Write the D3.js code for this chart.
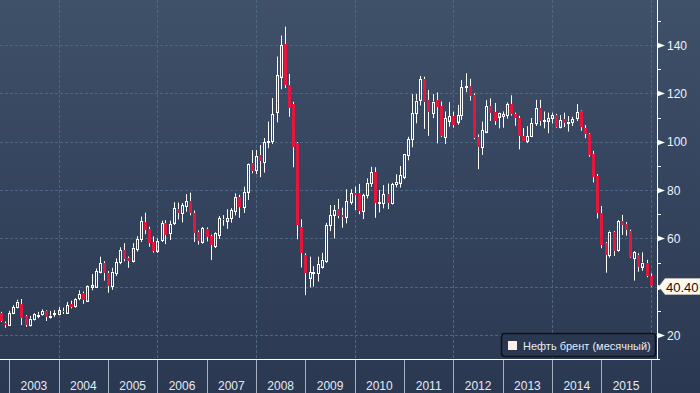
<!DOCTYPE html>
<meta charset="utf-8">
<style>
  body { margin: 0; background: #2c3a55; }
  svg { display: block; font-family: "Liberation Sans", Arial, sans-serif; }
  .grid line { stroke: #4c6783; stroke-width: 1px; stroke-dasharray: 3,2; }
  .wick { stroke: #ffffff; stroke-width: 1px; }
</style>
<body>
<div id="chart"></div>
<script src="https://d3js.org/d3.v7.js"></script>
<script>
  // monthly candles, Oct 2002 .. Dec 2015
  var firstMonth = new Date(2002, 9, 1);
  var lastMonth = new Date(2015, 11, 1);

  var opens = [
    29.2, 25.1, 24.2,
    29.2, 31.5, 32.8, 27.8, 24.0, 26.6, 28.3, 28.6, 29.9, 27.6, 28.6, 28.6,
    29.9, 29.2, 32.7, 32.0, 35.2, 37.2, 34.2, 40.0, 40.0, 46.2, 49.7, 45.5,
    40.3, 45.6, 50.1, 55.0, 52.0, 50.8, 55.6, 59.7, 66.9, 63.7, 58.6, 54.9,
    59.3, 66.2, 62.1, 66.5, 72.0, 70.4, 73.4, 75.4, 70.6, 62.7, 58.6, 63.7,
    61.0, 56.8, 61.4, 68.0, 67.3, 68.3, 71.3, 77.0, 72.8, 79.3, 91.0, 88.3,
    94.5, 91.4, 99.8, 100.2, 112.4, 126.9, 140.4, 123.4, 115.6, 99.3, 64.6, 53.1,
    43.7, 45.8, 45.5, 48.3, 50.7, 65.5, 69.8, 72.1, 69.6, 68.9, 75.1, 78.9,
    78.9, 71.3, 77.9, 82.7, 87.3, 74.7, 74.5, 78.3, 74.5, 82.3, 83.0, 85.5,
    94.5, 101.0, 111.7, 117.3, 125.8, 117.3, 111.7, 117.3, 114.8, 101.8, 108.7, 110.6,
    108.3, 111.0, 122.5, 123.0, 119.3, 101.8, 97.7, 104.2, 114.8, 112.4, 110.4, 110.6,
    111.0, 115.6, 111.4, 110.0, 102.4, 100.4, 102.2, 107.7, 114.0, 108.4, 108.7, 109.7,
    111.1, 106.2, 109.3, 107.8, 108.0, 109.7, 112.7, 105.8, 103.2, 94.9, 85.8, 70.4,
    58.0, 52.9, 62.8, 55.2, 67.2, 66.0, 63.1, 51.8, 53.1, 48.3, 50.0, 44.6
  ];
  var highs = [
    29.6, 25.6, 30.0,
    32.3, 34.6, 34.9, 28.3, 27.9, 29.0, 29.6, 30.6, 30.2, 30.0, 30.3, 31.5,
    31.3, 33.7, 34.2, 35.2, 38.5, 38.0, 40.5, 45.2, 47.5, 52.4, 50.5, 46.5,
    47.8, 51.7, 56.3, 58.0, 52.5, 58.0, 60.9, 69.0, 70.6, 64.8, 60.8, 60.0,
    67.3, 67.5, 67.3, 74.9, 74.8, 74.6, 78.3, 78.9, 71.5, 63.3, 64.7, 64.5,
    61.5, 62.5, 69.2, 69.6, 72.0, 72.5, 78.6, 78.0, 81.4, 91.0, 96.5, 96.5,
    98.6, 101.5, 108.3, 118.0, 135.2, 143.9, 147.6, 128.0, 116.5, 99.8, 67.9, 53.8,
    52.4, 48.5, 52.4, 54.0, 66.4, 73.8, 73.8, 76.3, 72.7, 80.3, 80.3, 81.4,
    82.5, 78.5, 84.8, 89.6, 89.4, 80.0, 82.0, 82.7, 83.0, 86.5, 89.9, 94.9,
    102.0, 119.7, 119.7, 127.2, 126.9, 121.4, 119.7, 120.4, 116.6, 112.5, 116.4, 112.4,
    115.2, 125.5, 128.3, 126.0, 120.0, 103.0, 108.3, 117.2, 117.9, 116.0, 112.0, 112.5,
    116.2, 119.2, 112.0, 110.7, 105.6, 106.4, 109.8, 117.3, 117.3, 112.5, 112.0, 112.0,
    111.5, 111.0, 112.0, 110.6, 110.3, 115.6, 112.9, 106.9, 103.5, 96.2, 86.6, 73.4,
    58.5, 63.2, 63.0, 67.6, 69.7, 66.8, 63.6, 54.7, 53.8, 54.2, 51.1, 45.5
  ];
  var lows = [
    25.4, 23.0, 23.8,
    28.6, 31.0, 24.1, 23.4, 23.5, 26.0, 26.9, 28.0, 25.8, 26.8, 27.5, 28.3,
    28.7, 28.9, 31.0, 31.3, 34.4, 32.9, 33.8, 38.5, 39.6, 45.5, 42.5, 37.5,
    38.7, 44.4, 49.3, 50.5, 47.8, 50.0, 54.5, 58.5, 61.7, 56.5, 54.1, 54.0,
    58.5, 57.6, 59.3, 65.5, 67.8, 66.6, 71.0, 69.5, 58.5, 57.4, 57.8, 58.7,
    51.0, 56.0, 59.8, 65.2, 63.9, 66.5, 69.5, 68.5, 70.5, 75.9, 86.9, 86.6,
    85.3, 87.2, 97.3, 99.0, 108.0, 121.7, 122.2, 110.3, 89.4, 59.6, 47.9, 36.5,
    39.7, 40.0, 42.1, 47.5, 49.8, 63.0, 60.0, 68.3, 64.4, 66.2, 74.0, 71.7,
    70.0, 68.0, 76.5, 81.3, 68.5, 70.7, 72.4, 72.1, 74.0, 81.1, 81.0, 84.5,
    92.3, 97.7, 107.6, 115.0, 105.3, 102.4, 109.7, 99.3, 102.0, 99.0, 106.2, 105.8,
    107.0, 109.0, 120.5, 117.0, 101.0, 88.6, 94.5, 103.5, 108.6, 106.9, 105.5, 105.8,
    109.5, 110.8, 106.6, 96.8, 100.3, 99.4, 101.9, 106.5, 106.6, 105.5, 103.5, 107.5,
    105.8, 105.5, 106.0, 104.2, 106.5, 108.5, 104.5, 101.4, 93.8, 83.1, 68.2, 55.9,
    45.8, 52.0, 52.7, 54.5, 61.4, 61.1, 52.0, 42.5, 46.2, 46.6, 43.9, 40.0
  ];
  var closes = [
    25.8, 24.2, 29.1,
    31.5, 33.8, 26.9, 24.1, 26.7, 28.6, 28.4, 29.9, 27.6, 28.0, 29.0, 30.3,
    29.4, 32.4, 31.5, 34.9, 37.0, 34.5, 40.1, 40.6, 46.5, 49.7, 45.5, 40.3,
    46.2, 50.2, 55.0, 51.3, 50.8, 56.1, 59.7, 67.2, 63.4, 57.9, 54.9, 59.0,
    66.2, 61.4, 65.9, 72.4, 70.4, 73.7, 75.4, 70.4, 62.3, 59.0, 64.1, 60.7,
    57.2, 62.1, 68.3, 67.6, 68.3, 71.7, 77.2, 72.8, 79.0, 90.8, 88.0, 94.1,
    92.1, 99.7, 100.2, 111.3, 127.6, 140.0, 123.4, 113.8, 97.9, 65.5, 53.8, 45.5,
    45.9, 46.2, 49.3, 51.0, 65.5, 69.6, 71.7, 69.2, 68.7, 75.4, 78.6, 77.8,
    71.3, 77.9, 83.0, 87.3, 74.5, 75.1, 78.3, 74.5, 82.3, 83.4, 86.2, 94.9,
    101.0, 111.7, 117.0, 125.8, 116.6, 112.4, 116.6, 114.5, 102.4, 109.7, 110.6, 106.9,
    111.0, 122.5, 123.0, 118.9, 101.7, 97.7, 104.8, 114.8, 112.0, 108.6, 111.7, 111.4,
    115.6, 111.4, 110.0, 102.4, 100.4, 102.2, 107.7, 114.0, 108.4, 108.8, 109.7, 111.1,
    106.2, 109.0, 107.6, 108.3, 109.4, 112.2, 106.0, 103.1, 94.5, 85.5, 70.4, 57.3,
    52.9, 62.8, 54.9, 67.2, 65.5, 63.5, 52.2, 54.2, 48.3, 50.0, 44.6, 40.4
  ];

  var years = [2002, 2003, 2004, 2005, 2006, 2007, 2008, 2009, 2010, 2011, 2012, 2013, 2014, 2015];
  var yTicks = [20, 40, 60, 80, 100, 120, 140];
  var yMinorTicks = [30, 50, 70, 90, 110, 130, 150];
  var seriesName = "Нефть брент (месячный)";
  var lastLabel = "40.40";

  var width = 700, height = 393;
  var axisX = 657, axisY = 359;

  var months = d3.timeMonth.range(firstMonth, d3.timeMonth.offset(lastMonth, 1));
  var candles = months.map(function(m, i) {
    return { date: m, o: opens[i], h: highs[i], l: lows[i], c: closes[i] };
  });

  var x = d3.scaleTime()
    .domain([new Date(2003, 0, 1), new Date(2016, 0, 1)])
    .range([9.3, 650.7]);

  var y = d3.scaleLinear()
    .domain([20, 140])
    .range([335, 45]);

  var svg = d3.select("#chart")
    .append("svg")
    .attr("width", width)
    .attr("height", height);

  var defs = svg.append("defs");
  var grad = defs.append("linearGradient")
    .attr("id", "bg")
    .attr("x1", 0).attr("y1", 0).attr("x2", 0).attr("y2", 1);
  grad.append("stop").attr("offset", "0%").attr("stop-color", "#3f5069");
  grad.append("stop").attr("offset", "100%").attr("stop-color", "#2b3852");

  defs.append("clipPath").attr("id", "plotclip")
    .append("rect").attr("x", 0).attr("y", 0).attr("width", axisX).attr("height", axisY);

  svg.append("rect")
    .attr("width", width)
    .attr("height", height)
    .attr("fill", "url(#bg)");

  // grid
  var grid = svg.append("g").attr("class", "grid");
  grid.selectAll("line.h")
    .data(yTicks)
    .enter().append("line")
    .attr("class", "h")
    .attr("x1", 0).attr("x2", axisX)
    .attr("y1", function(d) { return Math.round(y(d)) + 0.5; })
    .attr("y2", function(d) { return Math.round(y(d)) + 0.5; });

  var gridYears = [2004, 2006, 2008, 2010, 2012, 2014, 2016];
  grid.selectAll("line.v")
    .data(gridYears)
    .enter().append("line")
    .attr("class", "v")
    .attr("y1", 0).attr("y2", axisY)
    .attr("x1", function(d) { return Math.round(x(new Date(d, 0, 1))) + 0.5; })
    .attr("x2", function(d) { return Math.round(x(new Date(d, 0, 1))) + 0.5; });

  // candles
  var plot = svg.append("g").attr("clip-path", "url(#plotclip)");

  function cx(d) {
    return Math.round(x(d3.timeMonth.offset(d.date, 1)));
  }

  var up = candles.filter(function(d) { return d.c >= d.o; });
  var down = candles.filter(function(d) { return d.c < d.o; });

  plot.selectAll("line.wd")
    .data(down)
    .enter().append("line")
    .attr("class", "wick")
    .attr("x1", function(d) { return cx(d) + 0.5; })
    .attr("x2", function(d) { return cx(d) + 0.5; })
    .attr("y1", function(d) { return y(d.h); })
    .attr("y2", function(d) { return y(d.l); });

  plot.selectAll("rect.down")
    .data(down)
    .enter().append("rect")
    .attr("fill", "#e3173e")
    .attr("shape-rendering", "crispEdges")
    .attr("x", function(d) { return cx(d) - 1; })
    .attr("width", 3)
    .attr("y", function(d) { return y(d.o); })
    .attr("height", function(d) { return Math.max(1, y(d.c) - y(d.o)); });

  plot.selectAll("line.wu1")
    .data(up)
    .enter().append("line")
    .attr("class", "wick")
    .attr("x1", function(d) { return cx(d) + 0.5; })
    .attr("x2", function(d) { return cx(d) + 0.5; })
    .attr("y1", function(d) { return y(d.h); })
    .attr("y2", function(d) { return y(d.c); });

  plot.selectAll("line.wu2")
    .data(up)
    .enter().append("line")
    .attr("class", "wick")
    .attr("x1", function(d) { return cx(d) + 0.5; })
    .attr("x2", function(d) { return cx(d) + 0.5; })
    .attr("y1", function(d) { return y(d.o); })
    .attr("y2", function(d) { return y(d.l); });

  plot.selectAll("rect.up")
    .data(up)
    .enter().append("rect")
    .attr("fill", "none")
    .attr("stroke", "#ffffff")
    .attr("stroke-width", 1)
    .attr("x", function(d) { return cx(d) - 0.5; })
    .attr("width", 2)
    .attr("y", function(d) { return Math.round(y(d.c)) + 0.5; })
    .attr("height", function(d) { return Math.max(1, Math.round(y(d.o)) - Math.round(y(d.c))); });

  // axes lines
  svg.append("line")
    .attr("x1", axisX + 0.5).attr("x2", axisX + 0.5)
    .attr("y1", 0).attr("y2", axisY + 1)
    .attr("stroke", "#ffffff");
  svg.append("line")
    .attr("x1", 0).attr("x2", axisX + 3)
    .attr("y1", axisY + 0.5).attr("y2", axisY + 0.5)
    .attr("stroke", "#ffffff");

  // y ticks
  var yAxis = svg.append("g");
  yAxis.selectAll("path.flag")
    .data(yTicks)
    .enter().append("path")
    .attr("fill", "#ffffff")
    .attr("d", function(d) {
      var ty = Math.round(y(d)) + 0.5;
      return "M" + axisX + "," + (ty - 3) + "L" + (axisX + 8) + "," + ty + "L" + axisX + "," + (ty + 3) + "Z";
    });
  yAxis.selectAll("line.minor")
    .data(yMinorTicks)
    .enter().append("line")
    .attr("stroke", "#ffffff")
    .attr("x1", axisX).attr("x2", axisX + 4)
    .attr("y1", function(d) { return Math.round(y(d)) + 0.5; })
    .attr("y2", function(d) { return Math.round(y(d)) + 0.5; });
  yAxis.selectAll("text")
    .data(yTicks.filter(function(d) { return d !== 40; }))
    .enter().append("text")
    .attr("x", axisX + 10)
    .attr("y", function(d) { return y(d) + 4.5; })
    .attr("fill", "#eef3fa")
    .style("font-size", "12px")
    .text(function(d) { return d; });

  // last value tag
  var ly = Math.round(y(closes[closes.length - 1])) + 0.5;
  svg.append("path")
    .attr("fill", "#fff8ec")
    .attr("stroke", "#d8d2c8")
    .attr("stroke-width", 0.5)
    .attr("d", "M659," + ly + "L665," + (ly - 8) + "L700," + (ly - 8) + "L700," + (ly + 8) + "L665," + (ly + 8) + "Z");
  svg.append("text")
    .attr("x", 666)
    .attr("y", ly + 5)
    .attr("fill", "#111111")
    .style("font-size", "13px")
    .text(lastLabel);

  // x axis: year separators and labels
  var xAxis = svg.append("g");
  xAxis.selectAll("line")
    .data(years.slice(1).concat([2016]))
    .enter().append("line")
    .attr("stroke", "#a5afbf")
    .attr("x1", function(d) { return Math.round(x(new Date(d, 0, 1))) + 0.5; })
    .attr("x2", function(d) { return Math.round(x(new Date(d, 0, 1))) + 0.5; })
    .attr("y1", axisY + 1).attr("y2", height);
  xAxis.selectAll("text")
    .data(years)
    .enter().append("text")
    .attr("x", function(d) { return (x(new Date(d, 0, 1)) + x(new Date(d + 1, 0, 1))) / 2; })
    .attr("y", 390)
    .attr("text-anchor", "middle")
    .attr("fill", "#e4ebf5")
    .style("font-size", "12px")
    .text(function(d) { return d; });

  // legend
  var legend = svg.append("g");
  legend.append("rect")
    .attr("x", 501.5).attr("y", 333.5)
    .attr("width", 154).attr("height", 23)
    .attr("rx", 3)
    .attr("fill", "#2a3751")
    .attr("stroke", "#0c111b")
    .attr("stroke-width", 1.5);
  legend.append("rect")
    .attr("x", 508).attr("y", 341)
    .attr("width", 9).attr("height", 9)
    .attr("fill", "#fdeeea");
  legend.append("text")
    .attr("x", 523)
    .attr("y", 350)
    .attr("fill", "#e6ecf5")
    .style("font-size", "11px")
    .text(seriesName);
</script>
</body>
</html>
